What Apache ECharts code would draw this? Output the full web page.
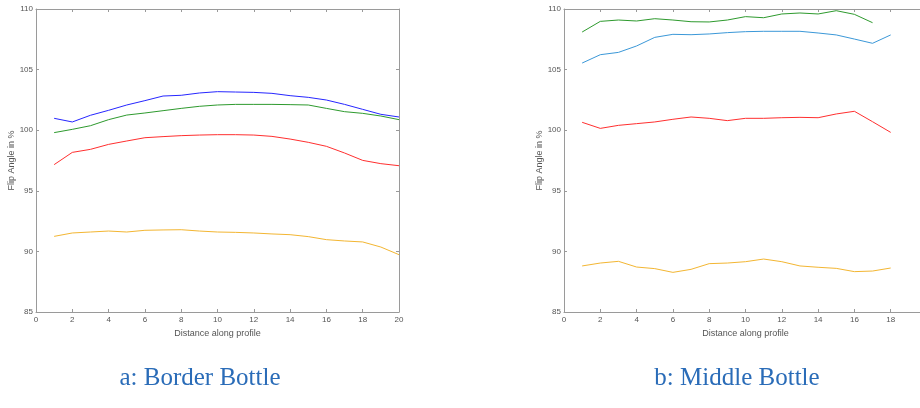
<!DOCTYPE html>
<html>
<head>
<meta charset="utf-8">
<script src="https://cdn.jsdelivr.net/npm/echarts@6/dist/echarts.min.js"></script>
<style>
  html, body { margin: 0; padding: 0; background: #fff; }
  #chart { width: 920px; height: 408px; }
</style>
</head>
<body>
<div id="chart"></div>
<script>
// distance along profile
const distA = [1, 2, 3, 4, 5, 6, 7, 8, 9, 10, 11, 12, 13, 14, 15, 16, 17, 18, 19, 20]
const distB = [1, 2, 3, 4, 5, 6, 7, 8, 9, 10, 11, 12, 13, 14, 15, 16, 17, 18]

// a: border bottle
const borderBlue = [100.98, 100.68, 101.23, 101.64, 102.08, 102.44, 102.82, 102.88, 103.07, 103.18, 103.15, 103.12, 103.04, 102.85, 102.71, 102.49, 102.13, 101.72, 101.31, 101.09]
const borderGreen = [99.8, 100.07, 100.37, 100.87, 101.25, 101.42, 101.61, 101.8, 101.97, 102.08, 102.13, 102.13, 102.13, 102.11, 102.08, 101.8, 101.53, 101.39, 101.17, 100.87]
const borderRed = [97.16, 98.17, 98.42, 98.83, 99.11, 99.38, 99.47, 99.55, 99.6, 99.63, 99.63, 99.6, 99.49, 99.27, 99.0, 98.67, 98.12, 97.51, 97.24, 97.07]
const borderYellow = [91.24, 91.52, 91.6, 91.68, 91.6, 91.74, 91.77, 91.79, 91.68, 91.6, 91.57, 91.52, 91.44, 91.38, 91.22, 90.97, 90.86, 90.78, 90.36, 89.73]

// b: middle bottle (green stops at 17)
const middleGreen = [108.1, 108.98, 109.09, 109.01, 109.2, 109.09, 108.95, 108.93, 109.09, 109.37, 109.28, 109.59, 109.67, 109.59, 109.86, 109.56, 108.87]
const middleBlue = [105.54, 106.23, 106.42, 106.95, 107.66, 107.91, 107.88, 107.94, 108.05, 108.13, 108.16, 108.16, 108.16, 108.02, 107.86, 107.52, 107.17, 107.86]
const middleRed = [100.65, 100.15, 100.4, 100.54, 100.68, 100.9, 101.09, 100.98, 100.79, 100.98, 100.98, 101.03, 101.06, 101.03, 101.34, 101.56, 100.7, 99.82]
const middleYellow = [88.8, 89.04, 89.18, 88.71, 88.58, 88.27, 88.52, 88.99, 89.04, 89.15, 89.37, 89.15, 88.8, 88.69, 88.6, 88.33, 88.38, 88.63]

const captions = ['a: Border Bottle', 'b: Middle Bottle']

const axisColor = '#9a9a9a'
const labelColor = '#555'
const labelFont = 'Liberation Sans'

function pairs(xs, ys) {
  return ys.map((v, i) => [xs[i], v])
}

function line(gridIdx, xs, ys, color) {
  return {
    type: 'line',
    xAxisIndex: gridIdx * 2,
    yAxisIndex: gridIdx * 2,
    data: pairs(xs, ys),
    showSymbol: false,
    silent: true,
    lineStyle: { color: color, width: 1 },
    itemStyle: { color: color }
  }
}

function xAxes(gridIdx) {
  return [{
    gridIndex: gridIdx,
    type: 'value',
    min: 0,
    max: 20,
    interval: 2,
    name: 'Distance along profile',
    nameLocation: 'middle',
    nameGap: 15,
    nameTextStyle: { color: labelColor, fontSize: 9, fontFamily: labelFont },
    axisLine: { onZero: false, lineStyle: { color: axisColor, width: 1 } },
    axisTick: { inside: true, length: 3, lineStyle: { color: axisColor } },
    axisLabel: { color: labelColor, fontSize: 8, fontFamily: labelFont, margin: 4 },
    splitLine: { show: false }
  }, {
    gridIndex: gridIdx,
    type: 'value',
    position: 'top',
    min: 0,
    max: 20,
    interval: 2,
    axisLine: { onZero: false, lineStyle: { color: axisColor, width: 1 } },
    axisTick: { inside: true, length: 3, lineStyle: { color: axisColor } },
    axisLabel: { show: false },
    splitLine: { show: false }
  }]
}

function yAxes(gridIdx) {
  return [{
    gridIndex: gridIdx,
    type: 'value',
    min: 85,
    max: 110,
    interval: 5,
    name: 'Flip Angle in %',
    nameLocation: 'middle',
    nameGap: 19,
    nameTextStyle: { color: labelColor, fontSize: 9, fontFamily: labelFont },
    axisLine: { show: true, onZero: false, lineStyle: { color: axisColor, width: 1 } },
    axisTick: { show: true, inside: true, length: 3, lineStyle: { color: axisColor } },
    axisLabel: { color: labelColor, fontSize: 8, fontFamily: labelFont, margin: 3 },
    splitLine: { show: false }
  }, {
    gridIndex: gridIdx,
    type: 'value',
    position: 'right',
    min: 85,
    max: 110,
    interval: 5,
    axisLine: { show: true, onZero: false, lineStyle: { color: axisColor, width: 1 } },
    axisTick: { show: true, inside: true, length: 3, lineStyle: { color: axisColor } },
    axisLabel: { show: false },
    splitLine: { show: false }
  }]
}

const chart = echarts.init(document.getElementById('chart'))
chart.setOption({
  backgroundColor: '#fff',
  animation: false,
  grid: [
    { left: 36, top: 9, width: 363, height: 303, outerBoundsMode: 'none', containLabel: false },
    // right panel runs past the page edge, like the cropped figure
    { left: 564, top: 9, width: 363, height: 303, outerBoundsMode: 'none', containLabel: false }
  ],
  xAxis: [...xAxes(0), ...xAxes(1)],
  yAxis: [...yAxes(0), ...yAxes(1)],
  series: [
    line(0, distA, borderBlue, '#2626ff'),
    line(0, distA, borderGreen, '#2e9a2e'),
    line(0, distA, borderRed, '#ff2f2f'),
    line(0, distA, borderYellow, '#f3b632'),
    line(1, distB.slice(0, middleGreen.length), middleGreen, '#2e9a2e'),
    line(1, distB, middleBlue, '#3b98d8'),
    line(1, distB, middleRed, '#ff2f2f'),
    line(1, distB, middleYellow, '#f3b632')
  ],
  graphic: [
    {
      type: 'text', x: 200, y: 378,
      style: {
        text: captions[0], fill: '#2a6cb8', font: '25px "Liberation Serif"',
        textAlign: 'center', textVerticalAlign: 'middle'
      }
    },
    {
      type: 'text', x: 737, y: 378,
      style: {
        text: captions[1], fill: '#2a6cb8', font: '25px "Liberation Serif"',
        textAlign: 'center', textVerticalAlign: 'middle'
      }
    }
  ]
})
</script>
</body>
</html>
